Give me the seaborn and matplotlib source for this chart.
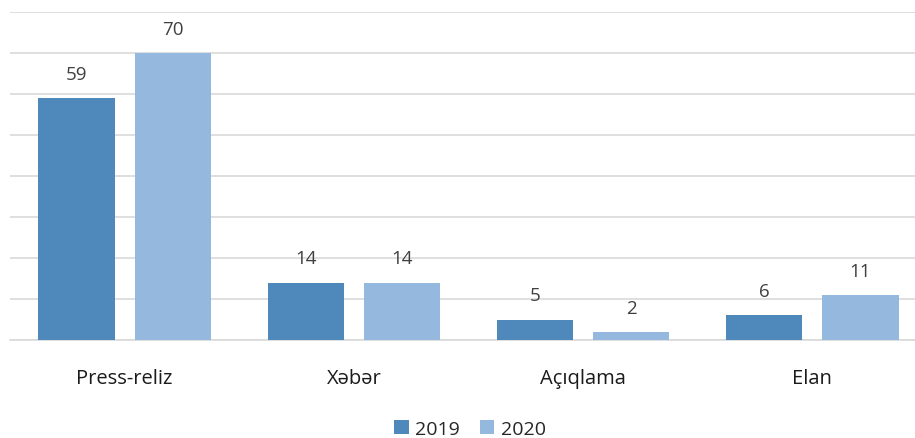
import pandas as pd
import matplotlib.pyplot as plt
import seaborn as sns

categories = ['Press-reliz', 'Xəbər', 'Açıqlama', 'Elan']
values_2019 = [59, 14, 5, 6]
values_2020 = [70, 14, 2, 11]
years = ['2019', '2020']

df = pd.DataFrame({
    'kateqoriya': categories * 2,
    'il': [years[0]] * 4 + [years[1]] * 4,
    'say': values_2019 + values_2020,
})

sns.set_theme(style='white')
plt.rcParams['font.family'] = ['Open Sans', 'DejaVu Sans']

fig = plt.figure(figsize=(9.15, 4.39), dpi=100)
# plot area runs a little past the right edge, as in the original
ax = fig.add_axes([10 / 915, 1 - 341 / 439, 917 / 915, 328 / 439])

palette = {'2019': '#4F88BB', '2020': '#95B8DF'}
sns.barplot(data=df, x='kateqoriya', y='say', hue='il', palette=palette,
            width=0.84, gap=0.21, ax=ax, zorder=3, saturation=1, linewidth=0)

ax.set_ylim(0, 80)
ax.set_xlim(-0.5, 3.5)
ax.set_yticks(range(0, 81, 10))
ax.yaxis.grid(True, color='#D9D9D9', linewidth=1.2, zorder=0)
ax.set_yticklabels([])
ax.tick_params(axis='y', length=0)
ax.tick_params(axis='x', length=0, pad=20, labelsize=14.5, labelcolor='#1a1a1a')
ax.set_xlabel('')
ax.set_ylabel('')
for s in ['top', 'right', 'left']:
    ax.spines[s].set_visible(False)
ax.spines['bottom'].set_color('#D9D9D9')
ax.spines['bottom'].set_linewidth(1.2)

for cont in ax.containers:
    ax.bar_label(cont, padding=11, fontsize=13.5, color='#404040')

handles, labels = ax.get_legend_handles_labels()
ax.get_legend().remove()
fig.legend(handles, labels, loc='center', bbox_to_anchor=(470 / 915, 1 - 430 / 439),
           ncol=2, frameon=False, borderpad=0,
           fontsize=14, handlelength=0.75, handleheight=0.75, handletextpad=0.35,
           columnspacing=1.0)

fig.savefig('out.png', dpi=100)
